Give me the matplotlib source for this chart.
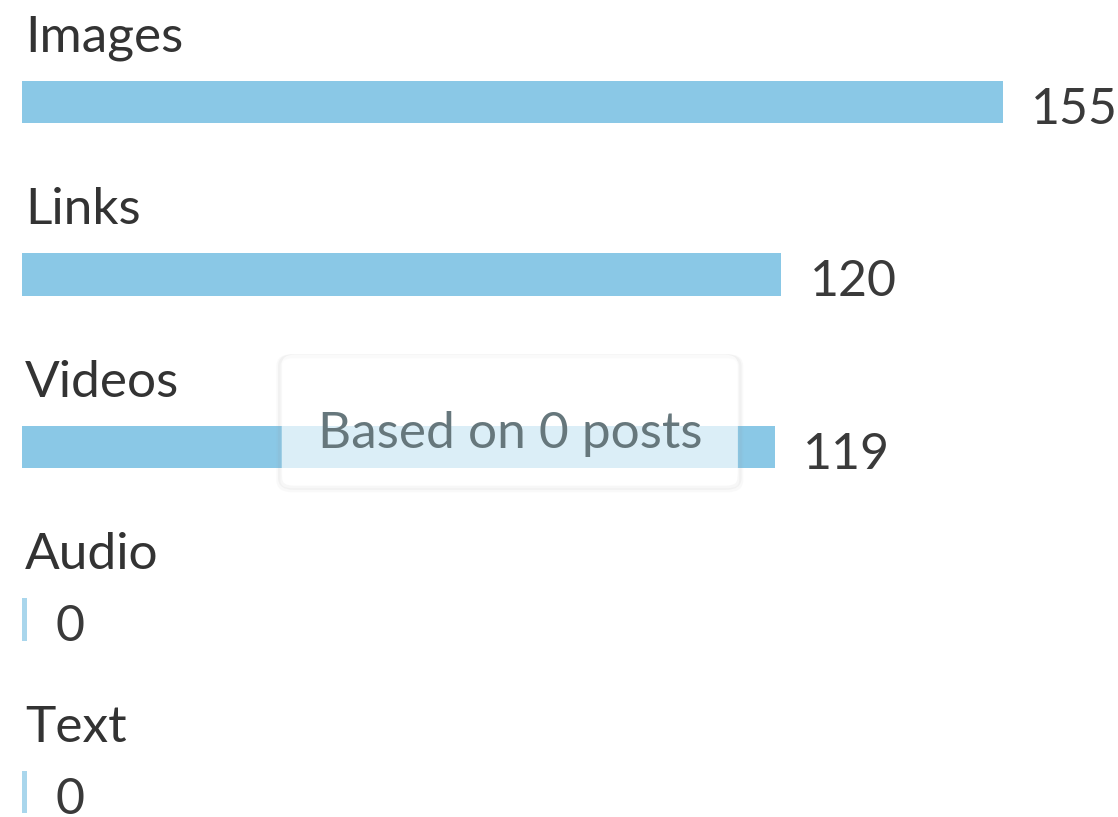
import matplotlib.pyplot as plt
from matplotlib.patches import FancyBboxPatch

# Post types and their counts
CATEGORIES = ['Images', 'Links', 'Videos', 'Audio', 'Text']
COUNTS = [155, 120, 119, 0, 0]
NOTE = 'Based on 0 posts'

BAR_COLOR = '#8ac8e6'
STUB_COLOR = '#a9d6ec'
TEXT_COLOR = '#333333'
FONT = ['Lato', 'DejaVu Sans']


def main():
    plt.rcParams['font.family'] = FONT
    fig = plt.figure(figsize=(11.18, 8.17), dpi=100)
    ax = fig.add_axes([0, 0, 1, 1])

    # scale: 1 count ~ 6.33 px, bars start 22 px from the left edge
    px = 981 / 155
    ax.set_xlim(-22 / px, (1118 - 22) / px)
    step = 172.5
    top = 102
    ax.set_ylim((817 - top) / step, -top / step)
    ax.axis('off')

    positions = list(range(len(CATEGORIES)))
    stub = 5 / px  # zero counts still get a thin visible stub
    widths = [max(v, stub) for v in COUNTS]
    colors = [BAR_COLOR if v > 0 else STUB_COLOR for v in COUNTS]
    ax.barh(positions, widths, height=0.245, color=colors, left=0, zorder=2)

    for y, name, v, w in zip(positions, CATEGORIES, COUNTS, widths):
        ax.text(3 / px, y - 0.29, name, fontsize=37, color=TEXT_COLOR,
                va='baseline', ha='left')
        ax.text(w + 28 / px, y + 0.125, str(v), fontsize=36, color='#3a3a3a',
                va='baseline', ha='left')

    # hover note over the middle bar: soft shadow ring, then translucent card
    x0, y0, w0, h0 = 0.262, 0.418, 0.388, 0.138
    for grow, a in [(0.006, 0.05), (0.003, 0.08)]:
        ring = FancyBboxPatch((x0 - grow / 2, y0 - grow - 0.002), w0 + grow, h0 + grow,
                              boxstyle='round,pad=0.01,rounding_size=0.012',
                              transform=fig.transFigure, facecolor='none',
                              edgecolor='#9a9a9a', linewidth=3, alpha=a, zorder=4)
        fig.patches.append(ring)
    card = FancyBboxPatch((x0, y0), w0, h0,
                          boxstyle='round,pad=0.01,rounding_size=0.012',
                          transform=fig.transFigure, facecolor='white', alpha=0.7,
                          edgecolor='none', zorder=5)
    fig.patches.append(card)
    fig.text(0.456, 1 - 448 / 817, NOTE, fontsize=37, color='#66777c',
             ha='center', va='baseline', zorder=6)

    fig.savefig('out.png', dpi=100)


if __name__ == '__main__':
    main()
